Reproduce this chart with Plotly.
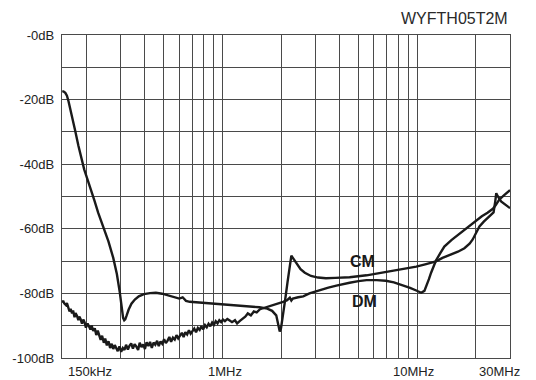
import math
import plotly.graph_objects as go

# Insertion loss of the WYFTH05T2M filter, common mode (CM) and differential mode (DM)
cm_freq_mhz = [0.1505, 0.153, 0.156, 0.159, 0.162, 0.165, 0.170, 0.175, 0.182, 0.189,
               0.195, 0.200, 0.205, 0.210, 0.220, 0.230, 0.245, 0.260, 0.275, 0.287,
               0.297, 0.304, 0.309, 0.313, 0.317, 0.322, 0.330, 0.341, 0.355, 0.372,
               0.395, 0.425, 0.455, 0.49, 0.53, 0.58, 0.60, 0.625, 0.65, 0.68,
               0.75, 0.85, 1.0, 1.16, 1.38, 1.55, 1.70, 1.80, 1.89, 1.94,
               1.97, 2.00, 2.05, 2.10, 2.16, 2.21, 2.26, 2.30, 2.40, 2.52,
               2.65, 2.85, 3.1, 3.4, 3.8, 4.5, 5.5, 6.7, 8.2, 9.9,
               11.0, 12.5, 13.5, 14.9, 16.2, 17.5, 18.6, 19.3, 20.1, 20.9,
               22.0, 23.5, 24.7, 25.2, 25.5, 26.0, 27.0, 28.5, 30.0]
cm_db = [-17.4, -17.5, -17.9, -18.8, -20.5, -22.4, -25.8, -29.4, -34.2, -38.6,
         -41.6, -43.6, -45.4, -47.4, -51.2, -55.0, -59.6, -64.0, -69.0, -74.0,
         -79.6, -84.5, -87.6, -88.3, -88.0, -86.9, -85.0, -83.2, -81.9, -80.9,
         -80.2, -79.9, -79.8, -80.1, -80.6, -81.4, -81.6, -81.2, -82.3, -82.6,
         -82.8, -83.1, -83.5, -83.9, -84.1, -84.3, -84.7, -85.4, -86.8, -89.5,
         -91.8, -90.8, -87.0, -82.0, -76.5, -71.5, -68.3, -69.0, -70.8, -72.5,
         -73.6, -74.6, -75.1, -75.3, -75.2, -75.0, -74.4, -73.5, -72.6, -71.7,
         -71.0, -70.1, -69.0, -68.1, -67.1, -66.0, -64.6, -63.3, -61.2, -59.3,
         -57.8, -56.2, -54.9, -51.5, -49.0, -50.0, -51.5, -52.6, -53.6]

dm_freq_mhz = [0.150, 0.152, 0.154, 0.157, 0.159, 0.162, 0.164, 0.166, 0.169, 0.171,
               0.174, 0.176, 0.179, 0.182, 0.184, 0.187, 0.190, 0.193, 0.196, 0.199,
               0.203, 0.206, 0.210, 0.213, 0.217, 0.221, 0.225, 0.229, 0.233, 0.237,
               0.241, 0.246, 0.250, 0.255, 0.260, 0.265, 0.270, 0.275, 0.280, 0.285,
               0.290, 0.296, 0.302, 0.308, 0.314, 0.320, 0.327, 0.333, 0.340, 0.347,
               0.354, 0.361, 0.369, 0.376, 0.384, 0.392, 0.400, 0.408, 0.417, 0.425,
               0.434, 0.443, 0.452, 0.462, 0.471, 0.481, 0.491, 0.502, 0.512, 0.523,
               0.534, 0.545, 0.557, 0.569, 0.581, 0.593, 0.606, 0.619, 0.632, 0.645,
               0.659, 0.673, 0.687, 0.702, 0.717, 0.732, 0.748, 0.764, 0.780, 0.797,
               0.814, 0.831, 0.849, 0.867, 0.886, 0.905, 0.924, 0.944, 0.964, 0.985,
               1.006, 1.03, 1.06, 1.09, 1.12, 1.16, 1.19, 1.23, 1.27, 1.31,
               1.35, 1.40, 1.45, 1.50, 1.56, 1.62, 1.69, 1.78, 1.86, 1.95,
               2.05, 2.15, 2.22, 2.26, 2.30, 2.45, 2.6, 2.8, 3.0, 3.2,
               3.5, 3.85, 4.2, 4.5, 5.0, 5.5, 6.2, 6.9, 7.6, 8.4,
               9.2, 9.9, 10.5, 10.9, 11.2, 11.5, 11.8, 12.2, 12.5, 13.2,
               13.8, 15.0, 16.2, 18.0, 19.7, 21.5, 23.0, 24.5, 25.4, 26.4,
               28.0, 30.0]
dm_db = [-82.8, -82.3, -83.1, -83.6, -83.0, -84.3, -85.6, -84.8, -86.2, -85.3,
         -87.4, -86.1, -86.9, -88.3, -87.2, -88.0, -89.4, -88.1, -89.0, -90.6,
         -89.3, -90.1, -91.2, -90.0, -91.6, -90.8, -92.9, -91.5, -93.2, -94.4,
         -93.1, -95.3, -94.0, -96.1, -94.8, -96.9, -95.6, -97.2, -96.0, -96.8,
         -97.9, -96.4, -98.1, -96.9, -97.5, -95.9, -97.4, -96.2, -95.5, -97.1,
         -95.7, -96.4, -97.5, -95.3, -96.6, -95.8, -97.2, -95.1, -96.3, -95.0,
         -96.9, -95.2, -95.9, -94.7, -96.3, -94.9, -95.6, -94.2, -95.4, -94.6,
         -93.5, -95.0, -93.7, -94.3, -92.9, -93.9, -93.1, -92.2, -93.5, -92.0,
         -92.7, -91.4, -92.5, -91.6, -90.9, -92.0, -90.7, -91.3, -90.2, -91.1,
         -89.8, -90.5, -89.4, -90.2, -89.0, -89.7, -88.6, -89.3, -88.3, -88.9,
         -88.1, -88.6, -87.9, -88.4, -88.9, -88.3, -89.3, -88.5, -87.8, -87.2,
         -86.2, -86.8, -85.6, -85.9, -84.9, -84.6, -84.1, -83.8, -83.4, -83.0,
         -82.6, -82.1, -81.3, -82.2, -81.6, -81.2, -80.9, -80.0, -79.4, -78.8,
         -78.2, -77.6, -77.0, -76.7, -76.2, -75.9, -75.9, -76.1, -76.6, -77.4,
         -78.3, -79.1, -79.8, -79.2, -77.5, -75.6, -73.6, -71.5, -69.8, -67.4,
         -65.5, -63.5, -61.9, -59.8, -57.8, -56.1, -55.0, -53.8, -52.6, -51.0,
         -49.6, -48.0]

# Grid frequencies (MHz) and level ticks (dB)
grid_freq_mhz = [0.15, 0.2, 0.3, 0.4, 0.5, 0.6, 0.7, 0.8, 0.9, 1, 2, 3, 4, 5, 6, 7, 8, 9,
                 10, 20, 30]
freq_labels = ["150kHz", "1MHz", "10MHz", "30MHz"]
freq_label_pos = [0.15, 1, 10, 30]
level_ticks = [0, -10, -20, -30, -40, -50, -60, -70, -80, -90, -100]
level_labels = ["-0dB", "", "-20dB", "", "-40dB", "", "-60dB", "", "-80dB", "", "-100dB"]

FONT = "Liberation Sans, Arial, Helvetica, sans-serif"
GRID = "#4a4a4a"
INK = "#1a1a1a"

fig = go.Figure()
fig.add_trace(go.Scatter(x=dm_freq_mhz, y=dm_db, mode="lines", name="DM",
                         line=dict(color=INK, width=2.4)))
fig.add_trace(go.Scatter(x=cm_freq_mhz, y=cm_db, mode="lines", name="CM",
                         line=dict(color=INK, width=2.4)))

fig.update_xaxes(type="log", range=[math.log10(0.15), math.log10(30)],
                 tickvals=grid_freq_mhz, ticktext=[""] * len(grid_freq_mhz),
                 showgrid=True, gridcolor=GRID, gridwidth=1.3,
                 showline=True, linecolor=GRID, linewidth=1.3, mirror=True,
                 zeroline=False, fixedrange=True)
fig.update_yaxes(range=[-100, 0], tickvals=level_ticks, ticktext=level_labels,
                 showgrid=True, gridcolor=GRID, gridwidth=1.3,
                 showline=True, linecolor=GRID, linewidth=1.3, mirror=True,
                 zeroline=False, ticklabelstandoff=4,
                 tickfont=dict(family=FONT, size=13, color="#222"))

annotations = []
anchors = ["left", "center", "center", "right"]
shifts = [4, 3, -4, 12]
for lbl, pos, anc, sh in zip(freq_labels, freq_label_pos, anchors, shifts):
    annotations.append(dict(x=math.log10(pos), y=-100, xref="x", yref="y", text=lbl,
                            showarrow=False, xanchor=anc, yanchor="top", xshift=sh,
                            yshift=-4, font=dict(family=FONT, size=13, color="#222")))
annotations.append(dict(x=math.log10(5.27), y=-70, xref="x", yref="y", text="<b>CM</b>",
                        showarrow=False, font=dict(family=FONT, size=16, color=INK)))
annotations.append(dict(x=math.log10(5.34), y=-82.6, xref="x", yref="y", text="<b>DM</b>",
                        showarrow=False, font=dict(family=FONT, size=16, color=INK)))
annotations.append(dict(x=1, y=1, xref="paper", yref="paper", text="WYFTH05T2M",
                        showarrow=False, xanchor="right", yanchor="bottom", yshift=6,
                        font=dict(family=FONT, size=16, color="#2a2a2a")))

fig.update_layout(width=536, height=380, margin=dict(l=62, r=26, t=35, b=22),
                  paper_bgcolor="white", plot_bgcolor="white", showlegend=False,
                  annotations=annotations)

fig.write_html("out.html", config={"displayModeBar": False})
